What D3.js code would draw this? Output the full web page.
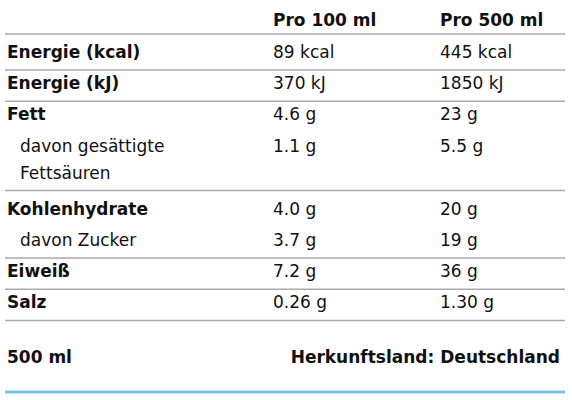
<!DOCTYPE html>
<html><head><meta charset="utf-8">
<script src="https://cdn.jsdelivr.net/npm/d3@7"></script>
<style>body{margin:0;background:#fff}text{font-family:"DejaVu Sans",sans-serif;font-size:17px;fill:#111}</style>
</head><body><svg id="c" width="572" height="400"></svg>
<script>
var headers=["Pro 100 ml","Pro 500 ml"];
var labels=["Energie (kcal)","Energie (kJ)","Fett","davon gesättigte|Fettsäuren","Kohlenhydrate","davon Zucker","Eiweiß","Salz"];
var per100=["89 kcal","370 kJ","4.6 g","1.1 g","4.0 g","3.7 g","7.2 g","0.26 g"];
var per500=["445 kcal","1850 kJ","23 g","5.5 g","20 g","19 g","36 g","1.30 g"];
var sub=[false,false,false,true,false,true,false,false];
var lineAfter=[true,true,false,true,false,true,true,true];
var footLeft="500 ml", footRight="Herkunftsland: Deutschland";

var svg=d3.select("#c");
var colX={label:7,p100:273,p500:440};
var rowH=31.2, lineH=27;
svg.selectAll("text.h").data(headers).enter().append("text").attr("class","h")
  .attr("x",function(d,i){return i?colX.p500:colX.p100}).attr("y",26)
  .attr("font-weight",700).text(function(d){return d});
function hline(y,col,w){svg.append("line").attr("x1",5).attr("x2",565).attr("y1",y).attr("y2",y).attr("stroke",col).attr("stroke-width",w);}
hline(34,"#aaa",1.5);
var y=58;
labels.forEach(function(l,i){
  var parts=l.split("|");
  var lx=sub[i]?20:colX.label;
  var t=svg.append("text").attr("x",lx).attr("y",y).attr("font-weight",sub[i]?400:700);
  parts.forEach(function(p,k){t.append("tspan").attr("x",lx).attr("dy",k?lineH:0).text(p)});
  svg.append("text").attr("x",colX.p100).attr("y",y).text(per100[i]);
  svg.append("text").attr("x",colX.p500).attr("y",y).text(per500[i]);
  var last=y+(parts.length-1)*lineH;
  if(lineAfter[i]) hline(last+12,"#aaa",1.5);
  y=last+rowH+(parts.length>1?5:0);
});
svg.append("text").attr("x",7).attr("y",363).attr("font-weight",700).text(footLeft);
svg.append("text").attr("x",560).attr("y",363).attr("font-weight",700).attr("text-anchor","end").text(footRight);
hline(392,"#7cc6e4",3);
</script></body></html>
